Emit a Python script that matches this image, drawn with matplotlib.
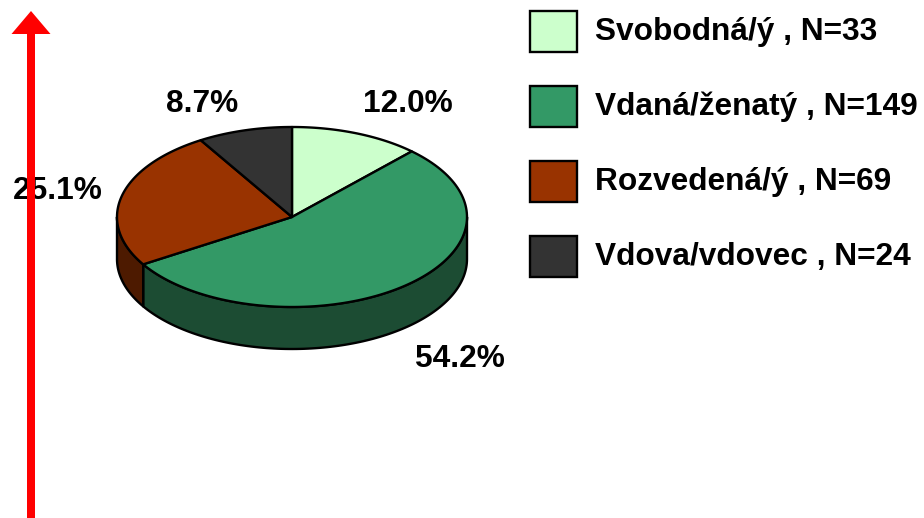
import numpy as np
import matplotlib.pyplot as plt
from matplotlib.patches import Polygon, FancyArrow

# ============================================================
# data
# ============================================================

labels = ["Svobodná/ý", "Vdaná/ženatý", "Rozvedená/ý", "Vdova/vdovec"]
counts = [33, 149, 69, 24]
pct_text = ["12.0%", "54.2%", "25.1%", "8.7%"]
top_colors = ["#CCFFCC", "#339966", "#993300", "#333333"]
side_colors = ["#66806A", "#1C4C33", "#4D1A00", "#1A1A1A"]

# ============================================================
# geometry (pixel coords)
# ============================================================

cx, cy = 292, 217
rx, ry = 175, 90
depth = 42

fig = plt.figure(figsize=(9.24, 5.18), dpi=100)
ax = fig.add_axes([0, 0, 1, 1])
ax.set_xlim(0, 924)
ax.set_ylim(518, 0)
ax.axis("off")

fracs = np.array(counts) / np.sum(counts)
bounds = 90 - 360 * np.concatenate([[0], np.cumsum(fracs)])


def arc(t0, t1, dy=0, n=120):
    t = np.radians(np.linspace(t0, t1, n))
    return np.column_stack([cx + rx * np.cos(t), cy + dy - ry * np.sin(t)])


# side walls: visible only on front half (angles -180..0)
for i in range(len(counts)):
    a0, a1 = bounds[i], bounds[i + 1]   # a0 > a1 (clockwise)
    for shift in (0, -360, 360):
        lo = max(a1 + shift, -180)
        hi = min(a0 + shift, 0)
        if hi > lo:
            top = arc(hi, lo)
            bot = arc(lo, hi, dy=depth)
            ax.add_patch(Polygon(np.vstack([top, bot]), closed=True,
                                 facecolor=side_colors[i], edgecolor="black",
                                 linewidth=1.7, joinstyle="round"))

# top faces
for i in range(len(counts)):
    pts = np.vstack([[cx, cy], arc(bounds[i], bounds[i + 1])])
    ax.add_patch(Polygon(pts, closed=True, facecolor=top_colors[i],
                         edgecolor="black", linewidth=1.7, joinstyle="round"))

# percentage labels
font = dict(family="Liberation Sans", weight="bold", fontsize=22.8, color="black")
label_pos = [(408, 104), (460, 359), (58, 191), (202, 104)]
for txt, (x, y) in zip(pct_text, label_pos):
    ax.text(x, y, txt, ha="center", va="center", **font)

# legend
for i, (lab, n) in enumerate(zip(labels, counts)):
    y0 = 11 + 75 * i
    ax.add_patch(Polygon([[530, y0], [577, y0], [577, y0 + 41], [530, y0 + 41]],
                         closed=True, facecolor=top_colors[i], edgecolor="black",
                         linewidth=1.7))
    ax.text(595, y0 + 21, f"{lab} , N={n}", ha="left", va="center", **font)

# red arrow, drawn over the labels
ax.add_patch(FancyArrow(31, 518, 0, -507, width=8, head_width=39,
                        head_length=23, length_includes_head=True,
                        color="#FF0000", linewidth=0, zorder=5))

fig.savefig("out.png", dpi=100)
